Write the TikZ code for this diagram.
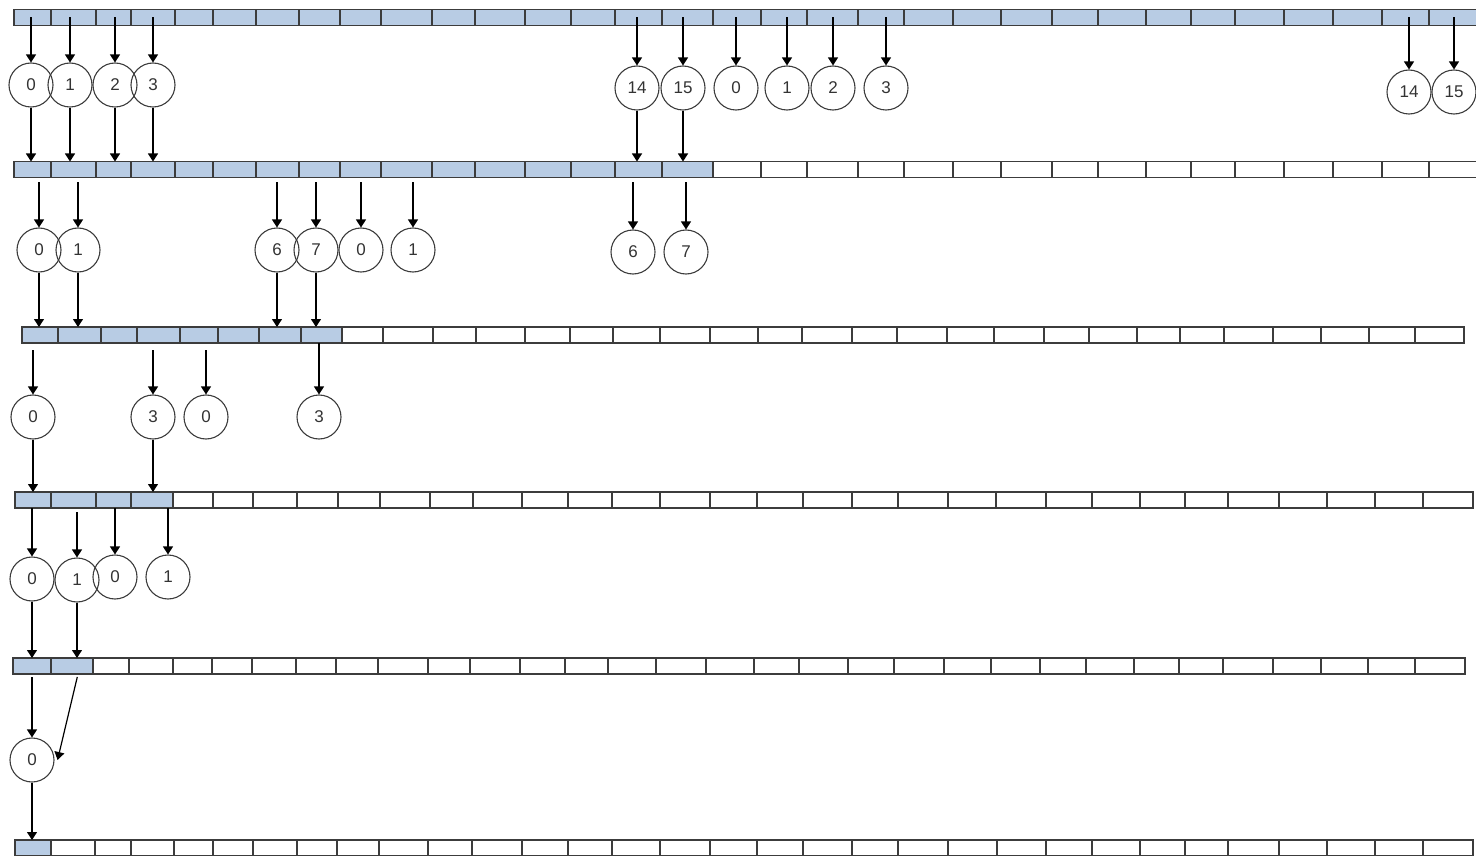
\documentclass[tikz,border=0pt]{standalone}
\usepackage{fontspec}
\setmainfont{Liberation Sans}
\usetikzlibrary{arrows.meta}
\definecolor{cellblue}{HTML}{B8CCE4}
\definecolor{edgegray}{HTML}{3C3C3C}
\newcommand\cellrow[4]{%
  \foreach \xr [count=\i from 0, remember=\xr as \xl (initially 0)] in {#4} {%
    \ifnum\i>0
      \pgfmathtruncatemacro\k{\i-1}%
      \ifnum\k<#3\relax \def\cf{cellblue}\else\def\cf{white}\fi
      \node[cell, fill=\cf, minimum width={(\xr-\xl)*1pt}] (#1-\k) at ({(\xl+\xr)/2},#2) {};
    \fi
  }%
}
\begin{document}
\begin{tikzpicture}[x=1pt,y=-1pt,
  cell/.style={rectangle, draw=edgegray, line width=1.3pt, minimum height=16pt, inner sep=0pt, outer sep=0pt},
  circ/.style={circle, draw=edgegray, line width=1.1pt, minimum size=44pt, inner sep=0pt, font=\fontsize{17}{17}\selectfont, text=black!80},
  arr/.style={draw=black, line width=1.2pt, -{Triangle[width=10pt,length=8pt]}}]
\useasboundingbox (0,0) rectangle (1476,856);
% rows of cells
\cellrow{r1}{17.5}{32}{14,51,96,131,175,213,256,299,340,381,432,475,525,571,615,662,713,761,807,858,904,953,1001,1052,1098,1146,1191,1235,1284,1333,1382,1429,1478}
\cellrow{r2}{169.5}{16}{14,51,96,131,175,213,256,299,340,381,432,475,525,571,615,662,713,761,807,858,904,953,1001,1052,1098,1146,1191,1235,1284,1333,1382,1429,1478}
\cellrow{r3}{335}{8}{22,58,101,137,180,218,259,301,342,383,433,476,525,570,613,660,710,758,802,852,897,947,994,1044,1089,1137,1180,1224,1273,1321,1369,1415,1464}
\cellrow{r4}{500}{4}{15,51,96,131,173,213,253,297,338,380,430,473,522,568,612,660,710,757,803,852,898,948,996,1046,1092,1140,1185,1228,1279,1327,1375,1423,1473}
\cellrow{r5}{666}{2}{13,51,93,129,173,212,252,296,336,378,428,470,520,565,608,656,706,754,799,848,894,944,991,1040,1086,1134,1179,1223,1273,1321,1368,1415,1465}
\cellrow{r6}{848}{1}{15,51,95,131,174,213,253,297,337,379,428,472,522,568,612,660,710,757,803,852,898,948,997,1046,1092,1140,1185,1228,1279,1327,1375,1423,1473}
% level 1 threads
\node[circ] (t1a) at (31,85) {0};
\node[circ] (t1b) at (70,85) {1};
\node[circ] (t1c) at (115,85) {2};
\node[circ] (t1d) at (153,85) {3};
\node[circ] (t1e) at (637,88) {14};
\node[circ] (t1f) at (683,88) {15};
\node[circ] (t1g) at (736,88) {0};
\node[circ] (t1h) at (787,88) {1};
\node[circ] (t1i) at (833,88) {2};
\node[circ] (t1j) at (886,88) {3};
\node[circ] (t1k) at (1409,92) {14};
\node[circ] (t1l) at (1454,92) {15};
\foreach \t/\c in {t1a/0,t1b/1,t1c/2,t1d/3,t1e/14,t1f/15,t1g/16,t1h/17,t1i/18,t1j/19,t1k/30,t1l/31}
  \draw[arr] (\t |- r1-\c.center) -- (\t.north);
\foreach \t/\c in {t1a/0,t1b/1,t1c/2,t1d/3,t1e/14,t1f/15}
  \draw[arr] (\t.south) -- (\t |- r2-\c.north);
% level 2 threads
\node[circ] (t2a) at (39,250) {0};
\node[circ] (t2b) at (78,250) {1};
\node[circ] (t2c) at (277,250) {6};
\node[circ] (t2d) at (316,250) {7};
\node[circ] (t2e) at (361,250) {0};
\node[circ] (t2f) at (413,250) {1};
\node[circ] (t2g) at (633,252) {6};
\node[circ] (t2h) at (686,252) {7};
\foreach \t/\c in {t2a/0,t2b/1,t2c/6,t2d/7,t2e/8,t2f/9,t2g/14,t2h/15}
  \draw[arr, shorten <=5pt] (\t |- r2-\c.south) -- (\t.north);
\foreach \t/\c in {t2a/0,t2b/1,t2c/6,t2d/7}
  \draw[arr] (\t.south) -- (\t |- r3-\c.north);
% level 3 threads
\node[circ] (t3a) at (33,417) {0};
\node[circ] (t3b) at (153,417) {3};
\node[circ] (t3c) at (206,417) {0};
\node[circ] (t3d) at (319,417) {3};
\foreach \t/\c in {t3a/0,t3b/3,t3c/4}
  \draw[arr, shorten <=7pt] (\t |- r3-\c.south) -- (\t.north);
\draw[arr] (t3d |- r3-7.south) -- (t3d.north);
\foreach \t/\c in {t3a/0,t3b/3}
  \draw[arr] (\t.south) -- (\t |- r4-\c.north);
% level 4 threads
\node[circ] (t4a) at (32,579) {0};
\node[circ] (t4b) at (77,580) {1};
\node[circ] (t4c) at (115,577) {0};
\node[circ] (t4d) at (168,577) {1};
\draw[arr] (t4a |- r4-0.south) -- (t4a.north);
\draw[arr, shorten <=4pt] (t4b |- r4-1.south) -- (t4b.north);
\draw[arr] (t4c |- r4-2.south) -- (t4c.north);
\draw[arr] (t4d |- r4-3.south) -- (t4d.north);
\foreach \t/\c in {t4a/0,t4b/1}
  \draw[arr] (\t.south) -- (\t |- r5-\c.north);
% level 5 thread
\node[circ] (t5a) at (32,760) {0};
\draw[arr, shorten <=3pt] (t5a |- r5-0.south) -- (t5a.north);
\draw[arr, shorten <=3pt] ([xshift=6pt]r5-1.south) -- ([xshift=3pt]t5a.east);
\draw[arr] (t5a.south) -- (t5a |- r6-0.north);
\end{tikzpicture}
\end{document}
